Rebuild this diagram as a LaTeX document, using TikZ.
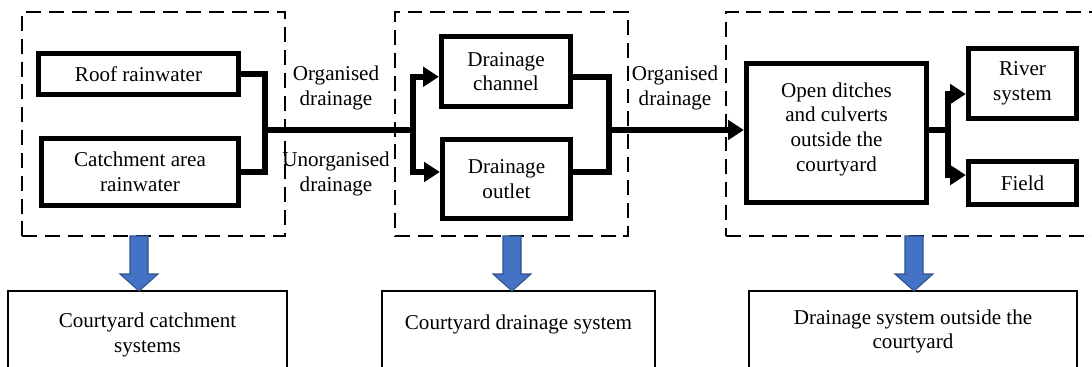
\documentclass[tikz,border=0pt]{standalone}
\usepackage{fontspec}
\setmainfont{Liberation Serif}
\usetikzlibrary{arrows.meta,positioning,calc}

\definecolor{arrowblue}{HTML}{4472C4}
\definecolor{arrowedge}{HTML}{2F528F}

% blue block arrow from #1 down to #2
\newcommand{\blockdown}[2]{%
  \filldraw[bluearrow] ($(#1)+(-9,0)$) -- ($(#1)+(9,0)$) -- ($(#2)+(9,-17)$) -- ($(#2)+(19,-17)$)
    -- (#2) -- ($(#2)+(-19,-17)$) -- ($(#2)+(-9,-17)$) -- cycle;}

\begin{document}
\begin{tikzpicture}[x=0.2mm, y=-0.2mm, font=\fontsize{12}{14}\selectfont,
  stagebox/.style={draw, line width=3pt, inner sep=0pt, align=center},
  groupframe/.style={draw, line width=1.4pt, dash pattern=on 8.5pt off 4.5pt, inner sep=0pt},
  sumbox/.style={draw, line width=1.1pt, inner sep=0pt},
  sumtext/.style={align=center, inner sep=0pt},
  lbl/.style={align=center, inner sep=0pt},
  pipe/.style={line width=3.2pt},
  flow/.style={line width=3.2pt, -{Triangle[length=9pt,width=11pt]}},
  bluearrow/.style={fill=arrowblue, draw=arrowedge, line width=0.6pt}]

\clip (0,0) rectangle (1092,367);

% dashed groups
\node[groupframe, minimum width=52.6mm, minimum height=44.8mm] (grp1) at (153.5,124) {};
\node[groupframe, minimum width=46.6mm, minimum height=44.8mm] (grp2) at (511.5,124) {};
\node[groupframe, minimum width=74.8mm, minimum height=44.8mm] (grp3) at (913,124) {};

% catchment
\node[stagebox, minimum width=40mm, minimum height=8.2mm] (roof) at (138.5,74) {Roof rainwater};
\node[stagebox, minimum width=39.4mm, minimum height=13.4mm] (catch) at (140,172) {Catchment area\\rainwater};

% courtyard drainage
\node[stagebox, minimum width=25.8mm, minimum height=14mm] (chan) at (506,71.5) {Drainage\\channel};
\node[stagebox, minimum width=25.6mm, minimum height=15.8mm] (outlet) at (506.5,179) {Drainage\\outlet};

% outside
\node[stagebox, minimum width=36mm, minimum height=27.8mm] (ditch) at (836.5,133) {Open ditches\\and culverts\\outside the\\courtyard\\[-7pt]};
\node[stagebox, minimum width=21.6mm, minimum height=14mm] (river) at (1022.5,83.5) {River\\system};
\node[stagebox, minimum width=21.6mm, minimum height=8.6mm] (field) at (1022.5,183) {Field};

% labels
\node[lbl] (org1) at (336,88) {Organised\\drainage};
\node[lbl] (unorg) at (336,174) {Unorganised\\drainage};
\node[lbl] (org2) at (675,88) {Organised\\drainage};

% junctions
\coordinate (j1) at (265,130);
\coordinate (j2) at (413,130);
\coordinate (j3) at (609,130);
\coordinate (j4) at (948,130);

\draw[pipe] (roof.east) -| (j1) |- (catch.east);
\draw[pipe] (j1) -- (j2);
\draw[flow] (j2) |- ([yshift=-3pt]chan.west);
\draw[flow] (j2) |- ([yshift=4pt]outlet.west);
\draw[pipe] ([yshift=-3pt]chan.east) -| (j3) |- ([yshift=4pt]outlet.east);
\draw[flow] (j3) -- (j3 -| ditch.west);
\draw[pipe] (j4 -| ditch.east) -- (j4);
\draw[flow] (j4) |- ([yshift=-6pt]river.west);
\draw[flow] (j4) |- ([yshift=4.5pt]field.west);

% summary boxes
\node[sumbox, minimum width=55.8mm, minimum height=19mm] (sum1) at (147.5,338.5) {};
\node[sumbox, minimum width=54.6mm, minimum height=19mm] (sum2) at (518.5,338.5) {};
\node[sumbox, minimum width=65.6mm, minimum height=19mm] (sum3) at (913,338.5) {};
\node[sumtext, below=13pt of sum1.north] (sumtext1) {Courtyard catchment\\systems};
\node[sumtext, below=14pt of sum2.north] (sumtext2) {Courtyard drainage system};
\node[sumtext, below=11pt of sum3.north] (sumtext3) {Drainage system outside the\\courtyard};

% blue arrows
\coordinate (t1) at (139,236);  \coordinate (h1) at (139,291);
\coordinate (t2) at (512,236);  \coordinate (h2) at (512,291);
\coordinate (t3) at (914,236);  \coordinate (h3) at (914,291);
\blockdown{t1}{h1}
\blockdown{t2}{h2}
\blockdown{t3}{h3}

\end{tikzpicture}
\end{document}
